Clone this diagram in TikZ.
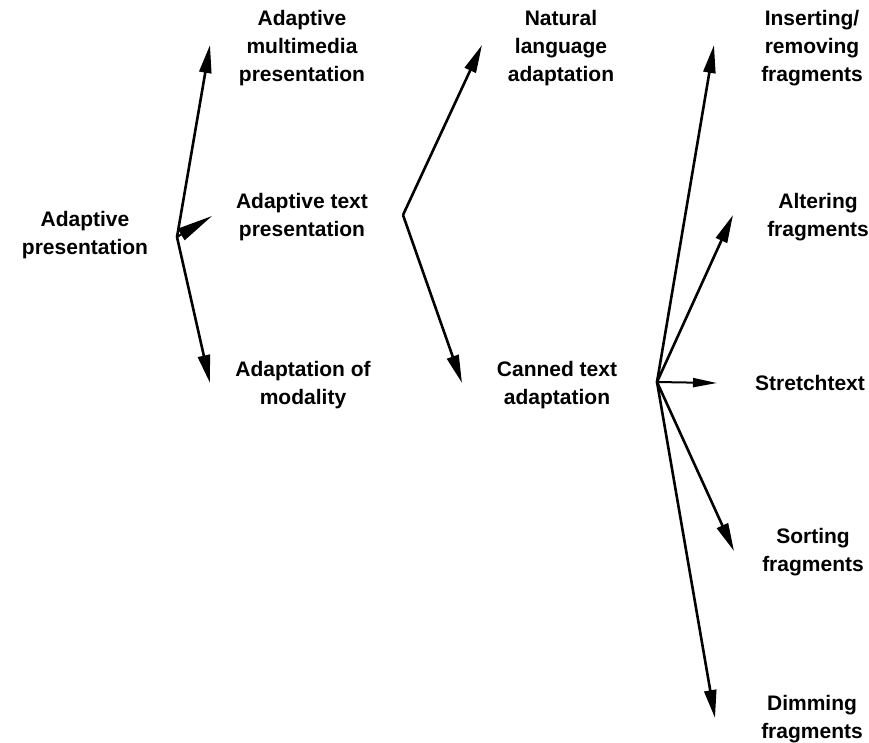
\documentclass[tikz,border=0pt]{standalone}
\usepackage{fontspec}
\setmainfont{Liberation Sans}
\usetikzlibrary{arrows.meta}
\begin{document}
\begin{tikzpicture}[x=1pt,y=-1pt,
  lbl/.style={font=\bfseries\fontsize{21}{28}\selectfont, align=center, inner sep=0pt},
  arr/.style={line width=2.6pt, -{Triangle[length=28pt,width=12pt]}, line join=round},
  sarr/.style={line width=2pt, -{Triangle[length=24pt,width=9pt]}}]
\useasboundingbox (0,0) rectangle (869,742);
% labels
\node[lbl] (ap)  at (85,235)  {Adaptive\\presentation};
\node[lbl] (amp) at (302,48)  {Adaptive\\multimedia\\presentation};
\node[lbl] (atp) at (302,217) {Adaptive text\\presentation};
\node[lbl] (aom) at (303,385) {Adaptation of\\modality};
\node[lbl] (nla) at (561,48)  {Natural\\language\\adaptation};
\node[lbl] (cta) at (557,385) {Canned text\\adaptation};
\node[lbl] (irf) at (812,48)  {Inserting/\\removing\\fragments};
\node[lbl] (alf) at (818,217) {Altering\\fragments};
\node[lbl] (st)  at (810,383) {Stretchtext};
\node[lbl] (sof) at (813,552) {Sorting\\fragments};
\node[lbl] (dif) at (812,719) {Dimming\\fragments};
% fan origins
\coordinate (o1) at (177,237);
\coordinate (o2) at (403,215);
\coordinate (o3) at (657,382);
% arrow tips
\coordinate (t11) at (210,45);
\coordinate (t12) at (212,216);
\coordinate (t13) at (210,383);
\coordinate (t21) at (482,45);
\coordinate (t22) at (462,383);
\coordinate (t31) at (714,45);
\coordinate (t32) at (733,215);
\coordinate (t33) at (717,383);
\coordinate (t34) at (734,551);
\coordinate (t35) at (715,718);
% arrows
\draw[arr] (o1) -- (t11);
\draw[arr] (o1) -- (t13);
\draw[line width=2pt, -{Triangle[length=36pt,width=13pt]}] (o1) -- (t12);
\draw[arr] (o2) -- (t21);
\draw[arr] (o2) -- (t22);
\draw[arr] (o3) -- (t31);
\draw[arr] (o3) -- (t32);
\draw[sarr] (o3) -- (t33);
\draw[arr] (o3) -- (t34);
\draw[arr] (o3) -- (t35);
\end{tikzpicture}
\end{document}
